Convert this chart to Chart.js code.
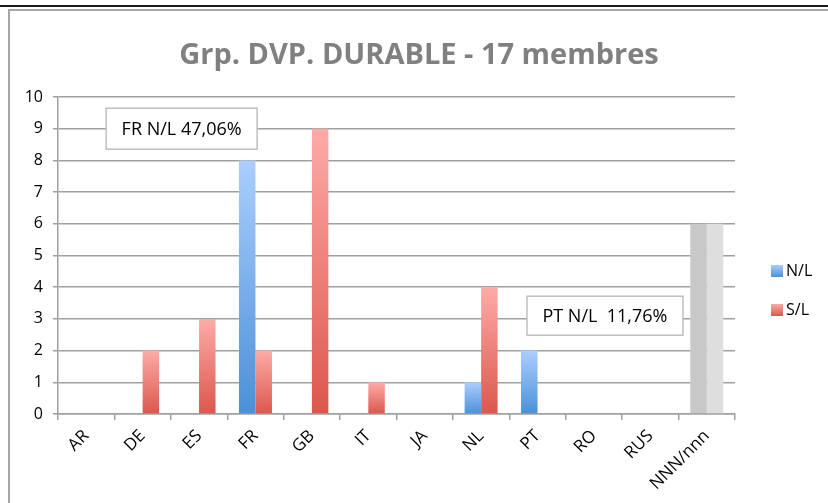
<!DOCTYPE html>
<html>
<head>
<meta charset="utf-8">
<script src="https://cdn.jsdelivr.net/npm/chart.js@4.4.1/dist/chart.umd.min.js"></script>
<style>
    body { margin: 0; background: #fff; }
    .topline { position: absolute; left: 0; top: 5px; width: 828px; height: 0; border-top: 2px solid #1a1a1a; }
    .frame { position: absolute; left: 8px; top: 9px; width: 820px; height: 494px; border-left: 2px solid #a6a6a6; border-top: 2px solid #a6a6a6; }
    .chart-box { position: absolute; left: 10px; top: 11px; width: 818px; height: 492px; }
</style>
</head>
<body>
<div class="topline"></div>
<div class="frame"></div>
<div class="chart-box"><canvas id="chart"></canvas></div>
<script>
    const categories = ['AR', 'DE', 'ES', 'FR', 'GB', 'IT', 'JA', 'NL', 'PT', 'RO', 'RUS', 'NNN/nnn'];
    const nlValues = [0, 0, 0, 8, 0, 0, 0, 1, 2, 0, 0, 6];
    const slValues = [0, 2, 3, 2, 9, 1, 0, 4, 0, 0, 0, 6];
    const yTicks = [0, 1, 2, 3, 4, 5, 6, 7, 8, 9, 10];

    const font = '"Open Sans", sans-serif';

    // excel style gradient, one per bar, grey for the NNN column
    function barFill(topColor, bottomColor, flatColor) {
        return function (ctx) {
            if (ctx.type !== 'data') return bottomColor;
            if (categories[ctx.dataIndex] === 'NNN/nnn') return flatColor;
            const chart = ctx.chart;
            const y = chart.scales.y;
            if (!y || !chart.chartArea) return bottomColor;
            const top = y.getPixelForValue(ctx.raw || 0);
            const bottom = y.getPixelForValue(0);
            if (!isFinite(top) || top === bottom) return bottomColor;
            const g = chart.ctx.createLinearGradient(0, top, 0, bottom);
            g.addColorStop(0, topColor);
            g.addColorStop(1, bottomColor);
            return g;
        };
    }

    const sideLegend = {
        id: 'sideLegend',
        afterDraw(chart, args, opts) {
            const c = chart.ctx;
            const area = chart.chartArea;
            c.save();
            chart.data.datasets.forEach((ds, i) => {
                const x = area.right + opts.left;
                const y = area.top + opts.top + i * opts.spacing;
                const g = c.createLinearGradient(0, y - 6, 0, y + 6);
                g.addColorStop(0, ds.legendColors[0]);
                g.addColorStop(1, ds.legendColors[1]);
                c.fillStyle = g;
                c.fillRect(x, y - 6, 12, 12);
                c.fillStyle = '#000';
                c.font = '16px ' + font;
                c.textBaseline = 'middle';
                c.textAlign = 'left';
                c.fillText(ds.label, x + 15, y);
            });
            c.restore();
        }
    };

    const noteBoxes = {
        id: 'noteBoxes',
        afterDatasetsDraw(chart, args, opts) {
            const c = chart.ctx;
            const xs = chart.scales.x;
            const ys = chart.scales.y;
            c.save();
            opts.notes.forEach(n => {
                const cx = xs.getPixelForValue(n.at) + n.dx;
                const cy = ys.getPixelForValue(n.value);
                const x = cx - n.w / 2;
                const y = cy - n.h / 2;
                c.fillStyle = '#fff';
                c.fillRect(x, y, n.w, n.h);
                c.strokeStyle = '#bfbfbf';
                c.lineWidth = 1.5;
                c.strokeRect(x, y, n.w, n.h);
                c.fillStyle = '#000';
                c.font = '18px ' + font;
                c.textAlign = 'center';
                c.textBaseline = 'middle';
                c.fillText(n.text, cx, cy + 1);
            });
            c.restore();
        }
    };

    new Chart(document.getElementById('chart'), {
        type: 'bar',
        data: {
            labels: categories,
            datasets: [{
                label: 'N/L',
                data: nlValues,
                backgroundColor: barFill('#abcefd', '#4b90d8', '#c8c8c8'),
                legendColors: ['#abcefd', '#4b90d8'],
                categoryPercentage: 0.585,
                barPercentage: 1
            }, {
                label: 'S/L',
                data: slValues,
                backgroundColor: barFill('#fdaba7', '#db574c', '#dedede'),
                legendColors: ['#fdaba7', '#db574c'],
                categoryPercentage: 0.585,
                barPercentage: 1
            }]
        },
        options: {
            responsive: true,
            maintainAspectRatio: false,
            animation: false,
            layout: { padding: 0 },
            scales: {
                x: {
                    grid: { offset: true, drawOnChartArea: false, color: '#a0a0a0', lineWidth: 1.5, tickLength: 6 },
                    border: { color: '#a0a0a0', width: 1.5 },
                    ticks: { color: '#000', font: { family: font, size: 17 }, minRotation: 45, maxRotation: 45, padding: 6 },
                    afterFit: s => { s.height = 89; }
                },
                y: {
                    min: 0,
                    max: 10,
                    afterBuildTicks: s => { s.ticks = yTicks.map(v => ({ value: v })); },
                    grid: { color: '#a0a0a0', lineWidth: 1.5, tickLength: 5 },
                    border: { color: '#a0a0a0', width: 1.5 },
                    ticks: { color: '#000', font: { family: font, size: 16 }, padding: 10 },
                    afterFit: s => { s.width = 48; }
                },
                // empty axis that only keeps room for the legend on the right
                side: {
                    position: 'right',
                    min: 0,
                    max: 1,
                    grid: { display: false },
                    border: { display: false },
                    ticks: { display: false },
                    afterFit: s => { s.width = 93; }
                }
            },
            plugins: {
                legend: { display: false },
                tooltip: { enabled: false },
                title: {
                    display: true,
                    text: 'Grp. DVP. DURABLE - 17 membres',
                    color: '#808080',
                    font: { family: font, size: 29, weight: 'bold', lineHeight: 1.2 },
                    padding: { top: 27, bottom: 24.2 }
                },
                sideLegend: { left: 36, top: 174, spacing: 39 },
                noteBoxes: {
                    notes: [
                        { text: 'FR N/L 47,06%', at: 1, dx: 39, value: 9, w: 151, h: 41 },
                        { text: 'PT N/L  11,76%', at: 9, dx: 11, value: 3.1, w: 156, h: 39 }
                    ]
                }
            }
        },
        plugins: [sideLegend, noteBoxes]
    });
</script>
</body>
</html>
